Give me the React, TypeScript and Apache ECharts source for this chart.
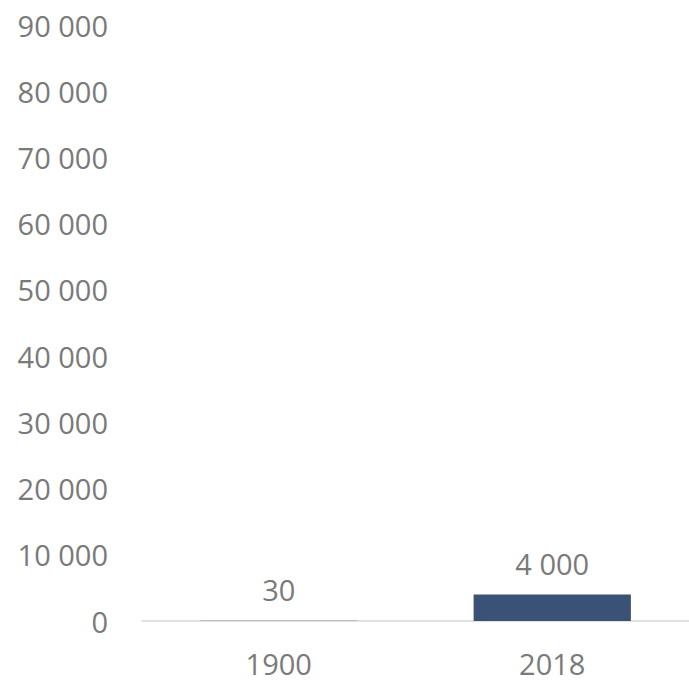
import React, { useEffect, useRef } from "react";
import * as echarts from "echarts";

const categories = ["1900", "2018"];
const values = [30, 4000];
const yMin = 0;
const yMax = 90000;
const yInterval = 10000;

const fmt = (v: number) => String(Math.round(v)).replace(/\B(?=(\d{3})+(?!\d))/g, " ");

export default function App() {
  const ref = useRef<HTMLDivElement>(null);
  useEffect(() => {
    if (!ref.current) return;
    const chart = echarts.init(ref.current, undefined, { renderer: "svg" });
    const textColor = "#7A7A7A";
    const font = "'Open Sans', 'Noto Sans', sans-serif";
    chart.setOption({
      animation: false,
      grid: { left: 142, right: 0, top: 25, bottom: 61, containLabel: false },
      xAxis: {
        type: "category",
        data: categories,
        axisLine: { lineStyle: { color: "#D9D9D9", width: 1.5 } },
        axisTick: { show: false },
        axisLabel: { color: textColor, fontSize: 29, fontFamily: font, margin: 28 },
      },
      yAxis: {
        type: "value",
        min: yMin,
        max: yMax,
        interval: yInterval,
        splitLine: { show: false },
        axisLine: { show: false },
        axisTick: { show: false },
        axisLabel: {
          color: textColor,
          fontSize: 29,
          fontFamily: font,
          margin: 34,
          formatter: (v: number) => fmt(v),
        },
      },
      series: [
        {
          type: "bar",
          data: values,
          barWidth: "57.5%",
          itemStyle: { color: "#3A5276" },
          label: {
            show: true,
            position: "top",
            distance: 17,
            color: textColor,
            fontSize: 29,
            fontFamily: font,
            formatter: (p: any) => fmt(p.value),
          },
        },
      ],
    });
    return () => chart.dispose();
  }, []);
  return (
    <div
      ref={ref}
      style={{ position: "fixed", left: 0, top: 0, width: 689, height: 682, background: "#fff" }}
    />
  );
}
